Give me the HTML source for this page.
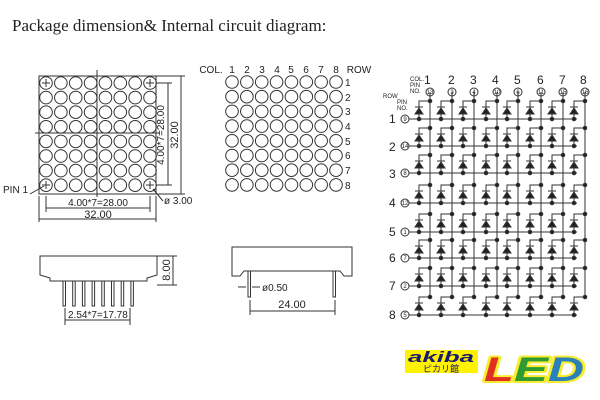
<!DOCTYPE html>
<html><head><meta charset="utf-8"><style>
body{margin:0;background:#fff;width:600px;height:400px;overflow:hidden}
svg{display:block}
text{font-family:"Liberation Sans",sans-serif;fill:#222}
</style></head><body>
<svg id="s" width="600" height="400" viewBox="0 0 600 400" xmlns="http://www.w3.org/2000/svg" stroke="#333" fill="none" stroke-width="1">
<text x="12" y="31" style="font-family:'Liberation Serif',serif;font-size:17px" stroke="none">Package dimension&amp; Internal circuit diagram:</text>
<g id="g1"></g>
<rect x="39" y="76" width="117" height="118"/>
<line x1="97" y1="70" x2="97" y2="197"/>
<line x1="35" y1="133" x2="160" y2="133"/>
<line x1="156" y1="83" x2="172" y2="83"/><line x1="156" y1="185" x2="172" y2="185"/>
<line x1="168" y1="83" x2="168" y2="185"/>
<line x1="156" y1="76" x2="185" y2="76"/><line x1="156" y1="194" x2="185" y2="194"/>
<line x1="181" y1="76" x2="181" y2="194"/>
<text transform="translate(164,135) rotate(-90)" text-anchor="middle" font-size="10" stroke="none">4.00*7=28.00</text>
<text transform="translate(178,135) rotate(-90)" text-anchor="middle" font-size="11" stroke="none">32.00</text>
<line x1="46" y1="196" x2="46" y2="212"/><line x1="150" y1="196" x2="150" y2="212"/>
<line x1="46" y1="208" x2="150" y2="208"/>
<line x1="39" y1="196" x2="39" y2="222"/><line x1="156" y1="196" x2="156" y2="222"/>
<line x1="39" y1="219" x2="156" y2="219"/>
<text x="98" y="206" text-anchor="middle" font-size="10" stroke="none">4.00*7=28.00</text>
<text x="98" y="218" text-anchor="middle" font-size="11" stroke="none">32.00</text>
<text x="3" y="193" font-size="10" stroke="none">PIN 1</text>
<line x1="30" y1="194" x2="44" y2="186"/>
<line x1="153" y1="189" x2="163" y2="201"/>
<text x="164" y="204" font-size="10" stroke="none">ø 3.00</text>
<g font-size="10" stroke="none" text-anchor="middle">
<text x="211" y="73">COL.</text>
<text x="232" y="73">1</text><text x="247" y="73">2</text><text x="262" y="73">3</text><text x="277" y="73">4</text><text x="291" y="73">5</text><text x="306" y="73">6</text><text x="321" y="73">7</text><text x="336" y="73">8</text>
<text x="359" y="73">ROW</text>
</g>
<g font-size="10" stroke="none">
<text x="345" y="86">1</text><text x="345" y="101">2</text><text x="345" y="115">3</text><text x="345" y="130">4</text><text x="345" y="145">5</text><text x="345" y="159">6</text><text x="345" y="174">7</text><text x="345" y="189">8</text>
</g>
<path d="M40 256 H157 V275 L147 278 V281 H50 V278 L40 275 Z"/>
<line x1="157" y1="256" x2="177" y2="256"/><line x1="157" y1="285" x2="177" y2="285"/>
<line x1="173" y1="256" x2="173" y2="285"/>
<text transform="translate(170,270) rotate(-90)" text-anchor="middle" font-size="11" stroke="none">8.00</text>
<line x1="65" y1="308" x2="65" y2="325"/><line x1="130" y1="308" x2="130" y2="325"/>
<line x1="65" y1="320" x2="130" y2="320"/>
<text x="68" y="318" font-size="10" stroke="none">2.54*7=17.78</text>
<path d="M232 247 H352 V276 H344 L340 271 H244 L240 276 H232 Z"/>
<rect x="248" y="271" width="2.5" height="26"/><rect x="333" y="271" width="2.5" height="26"/>
<line x1="238" y1="287" x2="246" y2="287"/><line x1="252" y1="287" x2="260" y2="287"/>
<text x="262" y="291" font-size="10" stroke="none">ø0.50</text>
<line x1="250" y1="300" x2="250" y2="315"/><line x1="335" y1="300" x2="335" y2="315"/>
<line x1="250" y1="311" x2="335" y2="311"/>
<text x="292" y="308" text-anchor="middle" font-size="11" stroke="none">24.00</text>
<g font-size="12" stroke="none">
<text x="424" y="84">1</text><text x="448" y="84">2</text><text x="470" y="84">3</text><text x="492" y="84">4</text><text x="514" y="84">5</text><text x="537" y="84">6</text><text x="559" y="84">7</text><text x="580" y="84">8</text>
</g>
<g font-size="6" stroke="none">
<text x="410" y="81">COL.</text><text x="410" y="87">PIN</text><text x="410" y="93">NO.</text>
<text x="383" y="98">ROW</text><text x="397" y="104">PIN</text><text x="397" y="110">NO.</text>
</g>
<g font-size="12" stroke="none">
<text x="389" y="123">1</text><text x="389" y="151">2</text><text x="389" y="178">3</text><text x="389" y="207">4</text><text x="389" y="236">5</text><text x="389" y="262">6</text><text x="389" y="290">7</text><text x="389" y="319">8</text>
</g>
<g font-size="6" stroke="none" text-anchor="middle">
<text x="430" y="94">13</text><text x="452" y="94">3</text><text x="474" y="94">4</text><text x="497" y="94">10</text><text x="518" y="94">6</text><text x="541" y="94">11</text><text x="563" y="94">15</text><text x="585" y="94">16</text>
<text x="405" y="121">9</text><text x="405" y="148">14</text><text x="405" y="175">8</text><text x="405" y="205">12</text><text x="405" y="234">1</text><text x="405" y="260">7</text><text x="405" y="288">2</text><text x="405" y="317">5</text>
</g>
<g id="g2"></g>
<rect x="405" y="350" width="73" height="23" fill="#fff200" stroke="none"/>
<text x="441" y="362" text-anchor="middle" font-size="15" font-weight="bold" font-style="italic" style="fill:#1a1a6e" stroke="none" textLength="66" lengthAdjust="spacingAndGlyphs">akiba</text>
<text x="441" y="372" text-anchor="middle" font-size="9" style="fill:#1a1a6e;font-family:'Liberation Sans','Noto Sans CJK JP',sans-serif" stroke="none">ピカリ館</text>
<g font-size="34" font-weight="bold" font-style="italic" stroke="#f7ec30" stroke-width="4" style="paint-order:stroke" stroke-linejoin="round">
<text x="484" y="381" style="fill:#e03020" textLength="30" lengthAdjust="spacingAndGlyphs">L</text>
<text x="514" y="381" style="fill:#2f9a32" textLength="34" lengthAdjust="spacingAndGlyphs">E</text>
<text x="548" y="381" style="fill:#2a80b8" textLength="36" lengthAdjust="spacingAndGlyphs">D</text>
</g>
</svg>
<script>
var NS="http://www.w3.org/2000/svg";
function el(p,t,a){var e=document.createElementNS(NS,t);for(var k in a)e.setAttribute(k,a[k]);p.appendChild(e);return e;}
var g1=document.getElementById('g1'),g2=document.getElementById('g2');
for(var i=0;i<8;i++)for(var j=0;j<8;j++){
 el(g1,'circle',{cx:46+i*14.86,cy:83+j*14.6,r:6.3});
 el(g1,'circle',{cx:232+i*14.86,cy:82+j*14.7,r:6.3});
}
[[46,83],[150,83],[46,185],[150,185]].forEach(function(p){
 el(g1,'line',{x1:p[0]-4,y1:p[1],x2:p[0]+4,y2:p[1]});el(g1,'line',{x1:p[0],y1:p[1]-4,x2:p[0],y2:p[1]+4});});
for(var k=0;k<8;k++){var x=63+k*9.7;el(g1,'rect',{x:x,y:281,width:2.5,height:25});}
var cols=[430,452,474,497,518,541,563,585],rows=[119,146,173,203,232,258,286,315];
cols.forEach(function(c){el(g2,'line',{x1:c,y1:92,x2:c,y2:297});el(g2,'circle',{cx:c,cy:92,r:4});});
rows.forEach(function(r){el(g2,'line',{x1:409,y1:r,x2:577,y2:r});el(g2,'circle',{cx:405,cy:r,r:4});
 cols.forEach(function(c){var d=c-11;
  el(g2,'polyline',{points:c+','+(r-18)+' '+d+','+(r-18)+' '+d+','+r});
  el(g2,'circle',{cx:c,cy:r-18,r:1.8,fill:'#222'});
  el(g2,'circle',{cx:d,cy:r,r:1.8,fill:'#222'});
  el(g2,'path',{d:'M'+(d-4)+' '+(r-5)+' L'+(d+4)+' '+(r-5)+' L'+d+' '+(r-11)+'Z',fill:'#222'});
  el(g2,'line',{x1:d-4,y1:r-12,x2:d+4,y2:r-12});
 });});
</script>
</body></html>
